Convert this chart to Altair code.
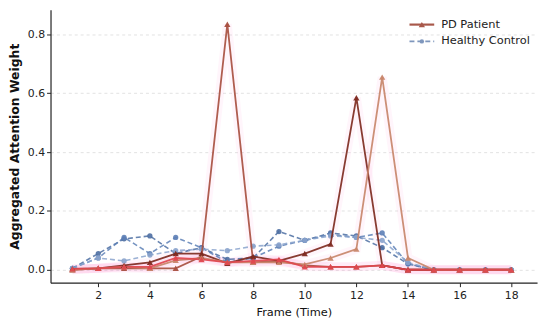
import altair as alt
import pandas as pd

frames = list(range(1, 19))

pd_a = [0.000, 0.005, 0.005, 0.005, 0.005, 0.045, 0.835, 0.025, 0.030, 0.015, 0.010, 0.010, 0.015, 0.000, 0.000, 0.000, 0.000, 0.000]
pd_b = [0.003, 0.005, 0.015, 0.025, 0.055, 0.055, 0.022, 0.045, 0.030, 0.055, 0.087, 0.585, 0.015, 0.000, 0.000, 0.000, 0.000, 0.000]
pd_c = [0.000, 0.005, 0.010, 0.005, 0.032, 0.040, 0.025, 0.025, 0.025, 0.018, 0.040, 0.070, 0.655, 0.040, 0.000, 0.000, 0.000, 0.000]
pd_d = [0.003, 0.005, 0.010, 0.010, 0.040, 0.035, 0.025, 0.030, 0.035, 0.010, 0.010, 0.010, 0.015, 0.000, 0.000, 0.000, 0.000, 0.000]

hc_a = [0.005, 0.055, 0.105, 0.115, 0.055, 0.075, 0.035, 0.040, 0.130, 0.100, 0.125, 0.115, 0.075, 0.020, 0.000, 0.000, 0.000, 0.000]
hc_b = [0.005, 0.040, 0.110, 0.055, 0.110, 0.075, 0.025, 0.040, 0.080, 0.100, 0.120, 0.110, 0.125, 0.020, 0.000, 0.000, 0.000, 0.000]
hc_c = [0.005, 0.040, 0.030, 0.050, 0.065, 0.070, 0.065, 0.080, 0.085, 0.100, 0.115, 0.110, 0.100, 0.025, 0.000, 0.000, 0.000, 0.000]

series_names = ["PD 1", "PD 2", "PD 3", "PD 4", "HC 1", "HC 2", "HC 3"]
series_groups = ["PD Patient"] * 4 + ["Healthy Control"] * 3
series_values = [pd_a, pd_b, pd_c, pd_d, hc_a, hc_b, hc_c]
series_colors = ["#a84f40", "#7e2a20", "#c8866a", "#e0474f", "#4c6ea2", "#5d80b6", "#8aa3cc"]

x_ticks = [2, 4, 6, 8, 10, 12, 14, 16, 18]
y_ticks = [0.0, 0.2, 0.4, 0.6, 0.8]

legend_labels = ["PD Patient", "Healthy Control"]
legend_colors = ["#a8584a", "#7f97bd"]

rows = []
for name, grp, vals in zip(series_names, series_groups, series_values):
    for f, v in zip(frames, vals):
        rows.append({"frame": f, "weight": v, "series": name, "group": grp})
df = pd.DataFrame(rows)

xscale = alt.Scale(domain=[0.15, 19.0], nice=False, zero=False)
yscale = alt.Scale(domain=[-0.044, 0.884], nice=False, zero=False)
cscale = alt.Scale(domain=series_names, range=series_colors)

x_enc = alt.X("frame:Q", scale=xscale,
              axis=alt.Axis(values=x_ticks, title="Frame (Time)", grid=False,
                            tickSize=4, labelPadding=3, titlePadding=6,
                            labelFontSize=11, titleFontSize=11.5, titleFontWeight="normal"))
y_enc = alt.Y("weight:Q", scale=yscale,
              axis=alt.Axis(values=y_ticks, format=".1f", title="Aggregated Attention Weight",
                            grid=True, gridDash=[3, 3], gridColor="#e2e2e2",
                            tickSize=4, labelPadding=2, titlePadding=6,
                            labelFontSize=11, titleFontSize=12.5, titleFontWeight="bold"))

pd_df = df[df["group"] == "PD Patient"]
hc_df = df[df["group"] == "Healthy Control"]

halo = alt.Chart(pd_df).mark_line(strokeWidth=9, opacity=0.07, color="#ff70c0").encode(
    x=x_enc, y=y_enc, detail="series:N")

hc_line = alt.Chart(hc_df).mark_line(strokeWidth=1.6, strokeDash=[5, 3], opacity=0.85).encode(
    x=x_enc, y=y_enc, color=alt.Color("series:N", scale=cscale, legend=None))
hc_pts = alt.Chart(hc_df).mark_point(shape="circle", filled=True, size=28, opacity=0.9).encode(
    x=x_enc, y=y_enc, color=alt.Color("series:N", scale=cscale, legend=None))

pd_line = alt.Chart(pd_df).mark_line(strokeWidth=1.8, opacity=0.92).encode(
    x=x_enc, y=y_enc, color=alt.Color("series:N", scale=cscale, legend=None))
pd_pts = alt.Chart(pd_df).mark_point(shape="triangle-up", filled=True, size=40, opacity=0.95).encode(
    x=x_enc, y=y_enc, color=alt.Color("series:N", scale=cscale, legend=None))

# legend (drawn inside the plot, top right)
leg_pd = pd.DataFrame({"label": [legend_labels[0]], "color": [legend_colors[0]]})
leg_hc = pd.DataFrame({"label": [legend_labels[1]], "color": [legend_colors[1]]})
leg_line_pd = alt.Chart(leg_pd).mark_rule(strokeWidth=2.2).encode(
    x=alt.value(363), x2=alt.value(388), y=alt.value(15), color=alt.Color("color:N", scale=None))
leg_line_hc = alt.Chart(leg_hc).mark_rule(strokeWidth=1.6, strokeDash=[5, 3]).encode(
    x=alt.value(363), x2=alt.value(388), y=alt.value(32), color=alt.Color("color:N", scale=None))
leg_pt_pd = alt.Chart(leg_pd).mark_point(shape="triangle-up", filled=True, size=40, opacity=1).encode(
    x=alt.value(375.5), y=alt.value(15), color=alt.Color("color:N", scale=None))
leg_pt_hc = alt.Chart(leg_hc).mark_point(shape="circle", filled=True, size=20, opacity=1).encode(
    x=alt.value(375.5), y=alt.value(32), color=alt.Color("color:N", scale=None))
leg_text_pd = alt.Chart(leg_pd).mark_text(align="left", baseline="middle", fontSize=11.5, color="#222222").encode(
    x=alt.value(395), y=alt.value(15), text="label:N")
leg_text_hc = alt.Chart(leg_hc).mark_text(align="left", baseline="middle", fontSize=11.5, color="#222222").encode(
    x=alt.value(395), y=alt.value(32), text="label:N")

chart = alt.layer(
    halo, hc_line, hc_pts, pd_line, pd_pts,
    leg_line_pd, leg_line_hc, leg_pt_pd, leg_pt_hc, leg_text_pd, leg_text_hc
).properties(
    width=492, height=276, padding={"left": 0, "top": -4, "right": 5, "bottom": 5}
).configure_view(stroke=None).configure_axis(
    domainColor="#222222", tickColor="#222222", labelColor="#222222", titleColor="#111111",
    labelFont="DejaVu Sans", titleFont="DejaVu Sans", domainWidth=1.2
).configure_text(font="DejaVu Sans")

chart.save("out.html", embed_options={"renderer": "svg", "actions": False})
